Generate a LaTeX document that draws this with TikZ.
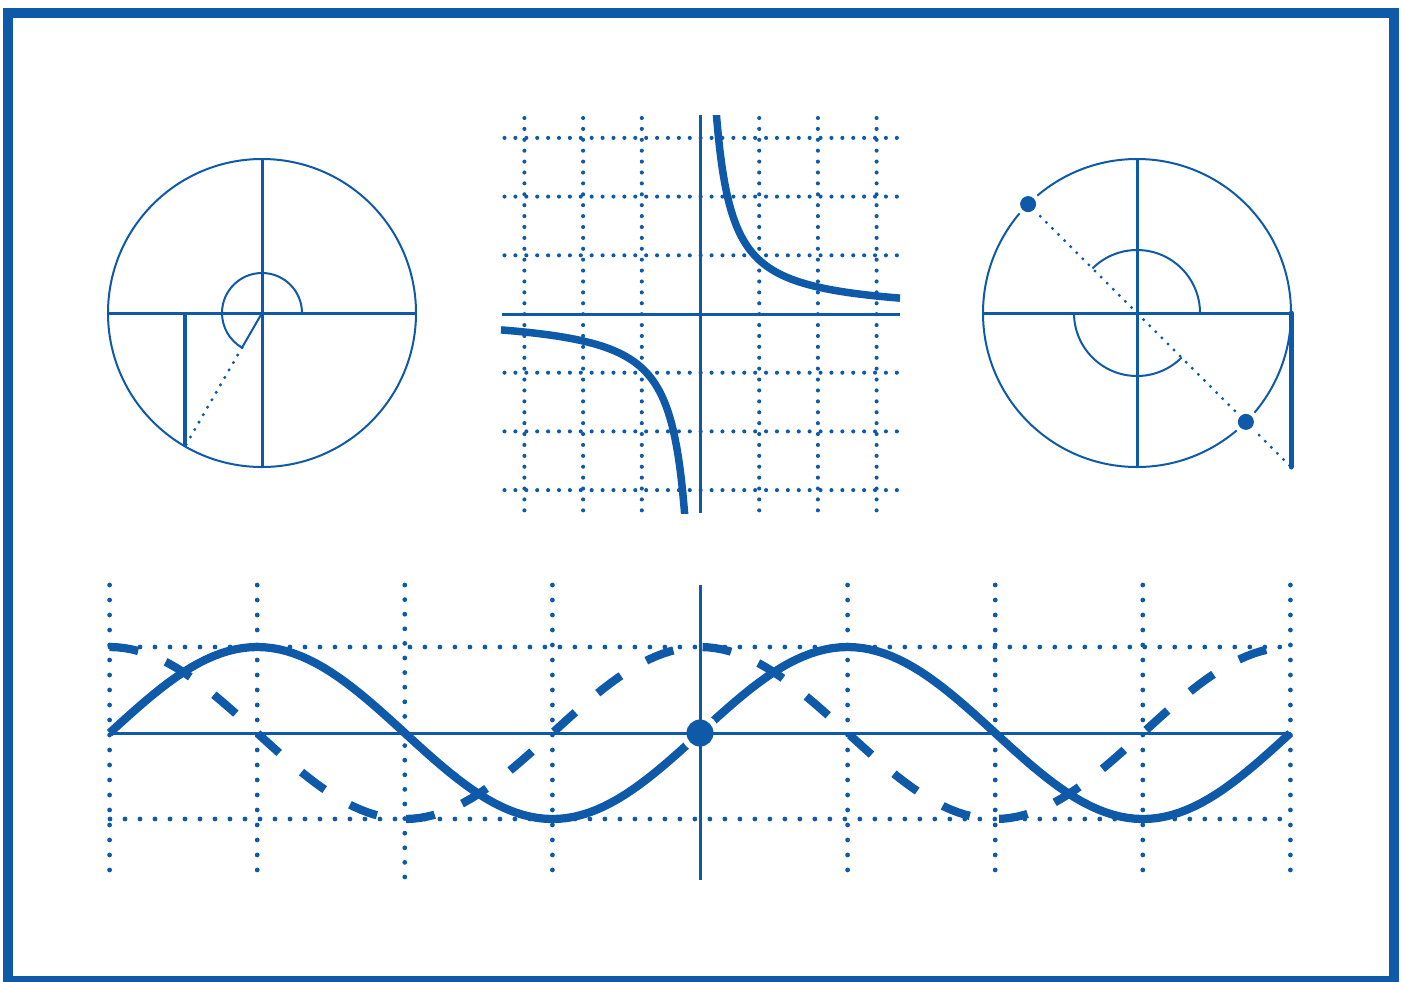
\documentclass[tikz,border=0pt]{standalone}
\usepackage{tikz}
\usepackage{xcolor}
\usetikzlibrary{calc}

\definecolor{ink}{RGB}{14,90,168}

\begin{document}
\begin{tikzpicture}[x=0.02cm, y=0.02cm,
    frame/.style={draw=ink, line width=0.2cm},
    ring/.style={draw=ink, line width=0.04cm},
    axis/.style={draw=ink, line width=0.06cm},
    thinarc/.style={draw=ink, line width=0.04cm},
    proj/.style={draw=ink, line width=0.09cm},
    ray/.style={draw=ink, line width=0.066cm, line cap=round, dash pattern=on 0pt off 0.172cm},
    griddot/.style={draw=ink, line width=0.082cm, line cap=round, dash pattern=on 0pt off 0.218cm},
    wavedot/.style={draw=ink, line width=0.096cm, line cap=round, dash pattern=on 0pt off 0.3cm},
    hyper/.style={draw=ink, line width=0.15cm},
    sinecurve/.style={draw=ink, line width=0.165cm, line join=round},
    cosecurve/.style={draw=ink, line width=0.165cm, dash pattern=on 0.58cm off 0.59cm},
    marker/.style={fill=ink},
    halo/.style={fill=white}
]

\useasboundingbox (0,0) rectangle (1405,-981);

% Outer frame
\draw[frame] (8,-12.5) rectangle (1393.5,-981);

% Left unit circle (sine of 240 deg)
\coordinate (lc) at (262,-313);
\coordinate (lp) at ($(lc)+(240:154)$);
\draw[ring] (lc) circle (154);
\draw[axis] (lc) ++(-154,0) -- ++(308,0);
\draw[axis] (lc) ++(0,154) -- ++(0,-308);
\draw[thinarc] (lc) ++(40,0) arc (0:240:40) -- (lc);
\draw[ray] ($(lc)+(240:40)$) -- (lp);
\draw[proj] (lp) -- (lp |- lc);

% Hyperbola on dotted grid
\coordinate (hc) at (700.5,-314);
\begin{scope}[shift={(hc)}]
\foreach \k in {-3,-2,-1,1,2,3} {
    \draw[griddot] (58.7*\k,196) -- (58.7*\k,-199);
    \draw[griddot] (-196,58.7*\k) -- (200,58.7*\k);
}
\begin{scope}
\clip (-200,-199) rectangle (200,199);
\draw[hyper] plot[domain=0.25:3.4, samples=120] ({58.7*\x},{54/\x});
\draw[hyper] plot[domain=0.25:3.4, samples=120] ({-58.7*\x},{-54/\x});
\end{scope}
\draw[axis] (-198.5,0) -- (199.5,0);
\draw[axis] (0,199) -- (0,-199);
\end{scope}

% Right unit circle (tangent of 135 deg)
\coordinate (rc) at (1137,-313);
\coordinate (rp) at ($(rc)+(135:154)$);
\coordinate (rq) at ($(rc)+(-45:154)$);
\coordinate (rt) at ($(rc)+(154,-154)$);
\draw[ring] (rc) circle (154);
\draw[axis] (rc) ++(-154,0) -- ++(308,0);
\draw[axis] (rc) ++(0,154) -- ++(0,-308);
\draw[thinarc] (rc) ++(63,0) arc (0:135:63);
\draw[thinarc] (rc) ++(-63,0) arc (180:315:63);
\draw[ray] (rp) -- (rt);
\draw[proj, line width=0.1cm, line cap=round] (rt |- rc) -- (rt);
\fill[halo] (rp) circle (12.5);
\fill[halo] (rq) circle (12.5);
\fill[marker] (rp) circle (8);
\fill[marker] (rq) circle (8);

% Sine and cosine waves
\coordinate (wc) at (700,-733);
\begin{scope}[shift={(wc)}]
\foreach \k in {-4,-3,-1,1,2,3,4}
    \draw[wavedot] (147.6*\k,148) -- (147.6*\k,-137);
\draw[wavedot, dash pattern=on 0pt off 0.292cm] (-295.2,148) -- (-295.2,-145);
\draw[wavedot] (-590,86) -- (591,86);
\draw[wavedot] (-590,-86) -- (591,-86);
\draw[sinecurve] plot[domain=-4:4, samples=161] ({147.6*\x},{86*sin(90*\x)});
\draw[cosecurve] plot[domain=-4:4, samples=161] ({147.6*\x},{86*cos(90*\x)});
\fill[halo] (0,0) circle (19);
\draw[axis] (-590,0) -- (591,0);
\draw[axis] (0,148) -- (0,-147);
\fill[marker] (0,0) circle (13.5);
\end{scope}

\end{tikzpicture}
\end{document}
